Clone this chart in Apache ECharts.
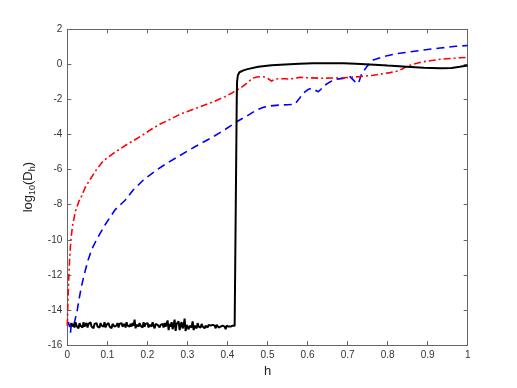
<!DOCTYPE html>
<html>
<head>
<meta charset="utf-8">
<script src="https://cdn.jsdelivr.net/npm/echarts@6/dist/echarts.min.js"></script>
<style>html,body{margin:0;padding:0;background:#fff}#c{width:517px;height:388px}</style>
</head>
<body>
<div id="c"></div>
<script>
// x-axis tick labels and y-axis tick labels
const xTicks = ['0','0.1','0.2','0.3','0.4','0.5','0.6','0.7','0.8','0.9','1'];
const yTicks = ['-16','-14','-12','-10','-8','-6','-4','-2','0','2'];

// red dash-dot series
const redH = [0.000,0.001,0.002,0.004,0.006,0.009,0.013,0.020,0.029,0.034,0.045,0.060,0.073,0.090,0.115,0.150,0.182,0.210,0.232,0.260,0.281,0.310,0.340,0.365,0.394,0.410,0.423,0.431,0.448,0.456,0.465,0.473,0.486,0.494,0.502,0.510,0.518,0.527,0.544,0.556,0.570,0.581,0.600,0.631,0.660,0.681,0.706,0.730,0.764,0.790,0.806,0.825,0.835,0.848,0.865,0.889,0.910,0.931,0.960,0.980,1.000];
const redV = [-14.9,-14.0,-13.2,-12.0,-11.0,-10.0,-9.2,-8.4,-7.8,-7.6,-7.0,-6.45,-6.0,-5.5,-5.07,-4.55,-4.12,-3.7,-3.4,-3.1,-2.85,-2.6,-2.35,-2.13,-1.84,-1.65,-1.46,-1.38,-1.08,-0.92,-0.78,-0.72,-0.70,-0.72,-0.82,-0.95,-0.85,-0.82,-0.82,-0.84,-0.78,-0.74,-0.76,-0.79,-0.78,-0.78,-0.74,-0.70,-0.62,-0.53,-0.47,-0.38,-0.28,-0.12,0.02,0.15,0.22,0.29,0.34,0.38,0.40];

// blue dashed series
const blueH = [0.000,0.003,0.006,0.008,0.010,0.013,0.016,0.019,0.022,0.025,0.029,0.035,0.042,0.052,0.062,0.073,0.094,0.119,0.145,0.165,0.190,0.223,0.250,0.281,0.320,0.365,0.395,0.423,0.450,0.473,0.490,0.506,0.530,0.550,0.568,0.581,0.589,0.600,0.610,0.627,0.644,0.656,0.669,0.689,0.706,0.719,0.727,0.735,0.748,0.764,0.789,0.820,0.848,0.890,0.931,0.970,1.000];
const blueV = [-14.85,-14.7,-15.0,-15.3,-14.8,-14.7,-14.85,-14.6,-14.3,-14.0,-13.43,-12.7,-12.0,-11.15,-10.5,-10.0,-9.16,-8.3,-7.73,-7.15,-6.59,-6.02,-5.62,-5.2,-4.68,-4.12,-3.7,-3.27,-2.92,-2.6,-2.45,-2.37,-2.32,-2.3,-2.28,-1.9,-1.65,-1.45,-1.36,-1.56,-1.18,-1.0,-0.85,-0.8,-0.7,-1.0,-1.08,-0.55,-0.13,0.25,0.44,0.6,0.69,0.82,0.93,1.03,1.08];

// black solid series: noisy floor (sampled every 0.0025 from h=0.008) then jump and plateau
const blackNoiseStart = 0.008, blackNoiseStep = 0.0025;
const blackNoiseV = [
-14.9,-14.75,-14.95,-14.8,-15.0,-14.7,-14.9,-14.85,-15.05,-14.75,
-14.9,-14.8,-15.0,-14.7,-14.95,-14.85,-14.75,-15.0,-14.8,-14.9,
-14.7,-14.95,-14.85,-15.05,-14.8,-14.9,-14.75,-14.95,-14.85,-15.0,
-14.75,-14.9,-14.8,-14.95,-14.7,-15.0,-14.85,-14.9,-14.75,-14.95,
-14.85,-15.05,-14.8,-14.7,-14.95,-14.85,-14.9,-14.75,-15.0,-14.8,
-14.9,-14.75,-14.95,-14.85,-14.8,-15.0,-14.7,-14.9,-14.85,-14.95,
-14.8,-14.95,-14.75,-14.9,-14.55,-15.05,-14.85,-14.8,-14.95,-14.75,
-14.9,-14.85,-15.0,-14.7,-14.95,-14.8,-14.9,-14.75,-15.0,-14.85,
-14.8,-14.95,-14.7,-14.9,-15.05,-14.8,-14.9,-14.85,-14.75,-15.0,
-14.85,-14.9,-14.8,-15.0,-14.75,-14.95,-14.85,-14.6,-15.15,-14.8,
-14.95,-14.7,-15.1,-14.85,-14.55,-15.2,-14.8,-14.9,-14.65,-15.15,
-14.85,-14.7,-15.05,-14.9,-14.5,-15.2,-14.85,-14.75,-15.1,-14.9,
-14.8,-15.0,-14.65,-15.15,-14.9,-14.8,-15.05,-14.75,-14.95,-14.85,
-15.0,-14.8,-14.95,-14.85,-15.05,-14.9,-14.8,-15.0,-14.85,-14.95,
-14.9,-15.0,-14.85,-14.95,-14.9,-15.05,-14.85,-14.95,-15.0,-14.9,
-14.95,-15.05,-14.9,-15.0,-14.95,-15.1,-14.9,-15.0,-14.95,-15.05,
-14.95,-15.0,-14.9,-14.95,-14.9,-14.85];
const blackTailH = [0.4215,0.4228,0.4232,0.4240,0.4260,0.4300,0.4400,0.4500,0.4770,0.5100,0.5440,0.5800,0.6140,0.6500,0.6900,0.7200,0.7560,0.8000,0.8480,0.8900,0.9310,0.9600,0.9800,1.0000];
const blackTailV = [-14.8,-14.8,-2.0,-1.0,-0.62,-0.45,-0.34,-0.27,-0.13,-0.05,0.0,0.04,0.06,0.07,0.06,0.04,0.0,-0.07,-0.13,-0.19,-0.22,-0.2,-0.14,-0.07];

const pairs = (hs, vs) => hs.map((h, i) => [h, vs[i]]);
const blackData = blackNoiseV.map((v, i) => [blackNoiseStart + i * blackNoiseStep, v]).concat(pairs(blackTailH, blackTailV));

const axisColor = '#666';
const labelColor = '#333';
const font = 'Liberation Sans, Arial, Helvetica, sans-serif';

const chart = echarts.init(document.getElementById('c'), null, {renderer: 'canvas'});
const baseX = {
  type: 'value', min: 0, max: 1, interval: 0.1,
  axisLine: {show: true, lineStyle: {color: axisColor, width: 1}},
  axisTick: {show: true, inside: true, length: 4, lineStyle: {color: axisColor}},
  splitLine: {show: false}
};
const baseY = {
  type: 'value', min: -16, max: 2, interval: 2,
  axisLine: {show: true, onZero: false, lineStyle: {color: axisColor, width: 1}},
  axisTick: {show: true, inside: true, length: 4, lineStyle: {color: axisColor}},
  splitLine: {show: false}
};
chart.setOption({
  animation: false,
  backgroundColor: '#fff',
  grid: {left: 67.3, right: 49.3, top: 29.3, bottom: 43, containLabel: false},
  xAxis: [
    Object.assign({}, baseX, {
      position: 'bottom',
      axisLine: {show: true, onZero: false, lineStyle: {color: axisColor, width: 1}},
      axisLabel: {margin: 5, color: labelColor, fontSize: 10, fontFamily: font,
        formatter: v => xTicks[Math.round(v * 10)]},
      name: 'h', nameLocation: 'middle', nameGap: 18,
      nameTextStyle: {fontSize: 13, color: '#222', fontFamily: font}
    }),
    Object.assign({}, baseX, {
      position: 'top',
      axisLine: {show: true, onZero: false, lineStyle: {color: axisColor, width: 1}},
      axisLabel: {show: false}
    })
  ],
  yAxis: [
    Object.assign({}, baseY, {
      position: 'left',
      axisLabel: {margin: 5, color: labelColor, fontSize: 10, fontFamily: font,
        formatter: v => yTicks[Math.round((v + 16) / 2)]},
      name: '{a|log}{s|10}{a|(D}{s|h}{a|)}', nameLocation: 'middle', nameGap: 22, nameRotate: 90,
      nameTextStyle: {fontSize: 13, color: '#222', fontFamily: font,
        rich: {
          a: {fontSize: 13, lineHeight: 18, color: '#222', fontFamily: font, verticalAlign: 'middle'},
          s: {fontSize: 9, lineHeight: 9, color: '#222', fontFamily: font, verticalAlign: 'bottom'}
        }}
    }),
    Object.assign({}, baseY, {
      position: 'right',
      axisLabel: {show: false}
    })
  ],
  series: [
    {
      type: 'line', xAxisIndex: 0, yAxisIndex: 0, data: blackData, showSymbol: false,
      lineStyle: {color: '#000', width: 2, type: 'solid'}, z: 3
    },
    {
      type: 'line', xAxisIndex: 0, yAxisIndex: 0, data: pairs(blueH, blueV), showSymbol: false,
      lineStyle: {color: '#0000ff', width: 1.6, type: [8, 5]}, z: 2
    },
    {
      type: 'line', xAxisIndex: 0, yAxisIndex: 0, data: pairs(redH, redV), showSymbol: false,
      lineStyle: {color: '#ff0000', width: 1.6, type: [7, 3, 2, 3]}, z: 2
    }
  ]
});
</script>
</body>
</html>
